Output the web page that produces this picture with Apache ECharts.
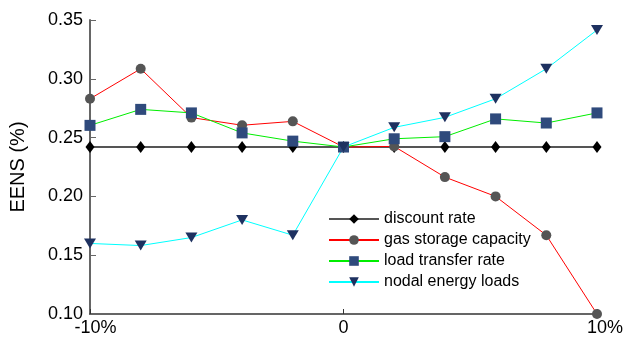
<!DOCTYPE html>
<html>
<head>
<meta charset="utf-8">
<script src="https://cdn.jsdelivr.net/npm/echarts@6/dist/echarts.min.js"></script>
<style>html,body{margin:0;padding:0;background:#fff}#c{width:626px;height:337px}</style>
</head>
<body>
<div id="c"></div>
<script>
var xValues = [-10, -8, -6, -4, -2, 0, 2, 4, 6, 8, 10];
var discountRate = [0.242, 0.242, 0.242, 0.242, 0.242, 0.242, 0.242, 0.242, 0.242, 0.242, 0.242];
var gasStorage = [0.283, 0.3085, 0.267, 0.2605, 0.2638, 0.242, 0.2425, 0.2164, 0.200, 0.167, 0.100];
var loadTransfer = [0.2604, 0.274, 0.271, 0.254, 0.247, 0.242, 0.249, 0.2508, 0.2659, 0.2624, 0.271];
var nodalLoads = [0.160, 0.1582, 0.165, 0.180, 0.167, 0.242, 0.2587, 0.2672, 0.283, 0.3085, 0.3415];
var seriesNames = ['discount rate', 'gas storage capacity', 'load transfer rate', 'nodal energy loads'];
var yTicks = [0.10, 0.15, 0.20, 0.25, 0.30, 0.35];

function pairs(arr) { return xValues.map(function (x, i) { return [x, arr[i]]; }); }

var font = '"Liberation Sans", Arial, Helvetica, sans-serif';
var chart = echarts.init(document.getElementById('c'), null, {renderer: 'canvas'});
chart.setOption({
  animation: false,
  backgroundColor: '#fff',
  grid: {left: 87, right: 24, top: 20, bottom: 22, containLabel: false},
  xAxis: {
    type: 'value', min: -10, max: 10, interval: 10,
    axisLine: {show: true, onZero: false, lineStyle: {color: '#333', width: 1.5}},
    axisTick: {show: true, inside: true, length: 5, lineStyle: {color: '#333'}},
    splitLine: {show: false},
    axisLabel: {
      fontFamily: font, fontSize: 18, color: '#000', margin: 5,
      formatter: function (v) { return v === 0 ? '{z|0}' : (v < 0 ? '{s|' : '{t|') + v + '%}'; },
      rich: {
        z: {fontFamily: font, fontSize: 18, color: '#000'},
        s: {fontFamily: font, fontSize: 18, color: '#000', padding: [0, 0, 0, 11]},
        t: {fontFamily: font, fontSize: 18, color: '#000', padding: [0, 0, 0, 16]}
      }
    }
  },
  yAxis: {
    type: 'value', min: yTicks[0], max: yTicks[yTicks.length - 1], interval: 0.05,
    name: 'EENS (%)', nameLocation: 'middle', nameGap: 62, nameRotate: 90,
    nameTextStyle: {fontFamily: font, fontSize: 20, color: '#000'},
    axisLine: {show: true, onZero: false, lineStyle: {color: '#666', width: 2}},
    axisTick: {show: true, inside: true, length: 6, lineStyle: {color: '#666'}},
    splitLine: {show: false},
    axisLabel: {
      fontFamily: font, fontSize: 18, color: '#000', margin: 7,
      formatter: function (v) { return v.toFixed(2); }
    }
  },
  legend: {
    orient: 'vertical', left: 328, top: 211, padding: 0,
    itemWidth: 50, itemHeight: 12, itemGap: 5,
    textStyle: {fontFamily: font, fontSize: 16, color: '#000', lineHeight: 14},
    data: seriesNames
  },
  series: [
    {
      name: seriesNames[0], type: 'line', data: pairs(discountRate),
      symbol: 'diamond', symbolSize: [9, 12],
      lineStyle: {color: '#555', width: 2},
      itemStyle: {color: '#000'}
    },
    {
      name: seriesNames[1], type: 'line', data: pairs(gasStorage),
      symbol: 'circle', symbolSize: 10,
      lineStyle: {color: '#ff0000', width: 1},
      itemStyle: {color: '#555'}
    },
    {
      name: seriesNames[2], type: 'line', data: pairs(loadTransfer),
      symbol: 'rect', symbolSize: 11,
      lineStyle: {color: '#00ee00', width: 1},
      itemStyle: {color: '#2f4a7c'}
    },
    {
      name: seriesNames[3], type: 'line', data: pairs(nodalLoads),
      symbol: 'triangle', symbolRotate: 180, symbolSize: [12, 10],
      lineStyle: {color: '#00ffff', width: 1},
      itemStyle: {color: '#1e3160'}
    }
  ]
});
</script>
</body>
</html>
